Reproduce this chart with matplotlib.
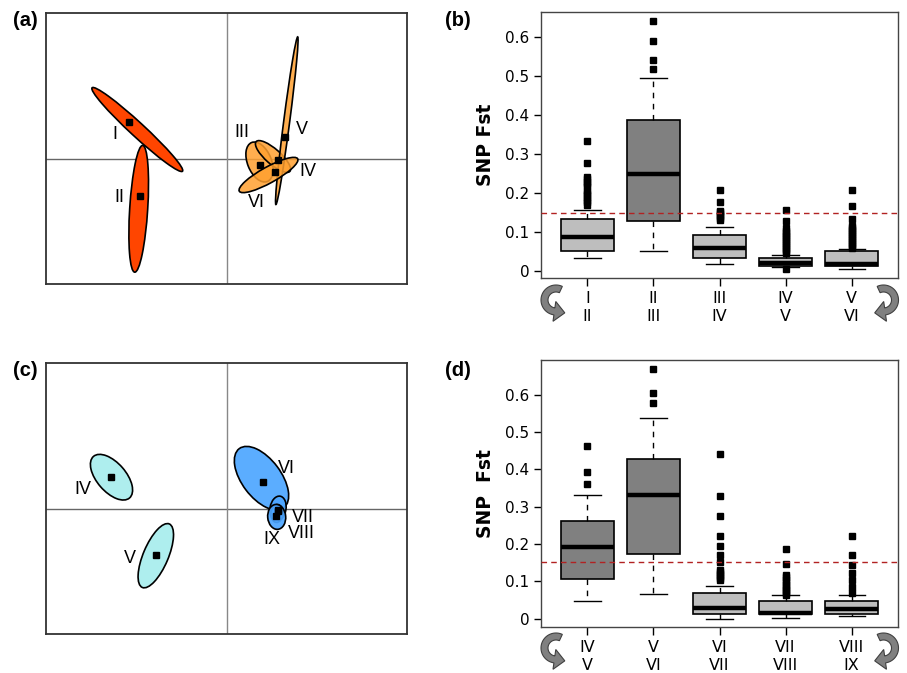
import numpy as np
import matplotlib
matplotlib.use("Agg")
import matplotlib.pyplot as plt
from matplotlib.patches import Ellipse, Polygon

# ---------------- data ----------------
# panel (a): group ellipses (centre, axes, angle), centroids, labels
a_names = ["I", "II", "III", "IV", "V", "VI"]
a_cx = [-0.897, -0.883, 0.325, 0.46, 0.598, 0.415]
a_cy = [0.29, -0.503, -0.035, 0.02, 0.378, -0.165]
a_major = [1.23, 1.27, 0.42, 0.45, 1.69, 0.668]
a_minor = [0.14, 0.18, 0.24, 0.15, 0.06, 0.16]
a_angle = [-42.7, 86.4, -68, -41.4, 82.6, 29]
a_px = [-0.98, -0.87, 0.33, 0.507, 0.58, 0.48]
a_py = [0.363, -0.377, -0.067, -0.017, 0.213, -0.137]
a_lx = [-1.12, -1.077, 0.147, 0.813, 0.747, 0.297]
a_ly = [0.24, -0.393, 0.257, -0.127, 0.29, -0.443]
a_colors = ["#FF4500", "#FF4500", "#FFA030", "#FFA030", "#FFA030", "#FFA030"]

# panel (c)
c_names = ["IV", "V", "VI", "VII", "VIII", "IX"]
c_cx = [-1.155, -0.712, 0.345, 0.51, 0.50, 0.497]
c_cy = [0.313, -0.472, 0.303, 0.0, -0.05, -0.084]
c_major = [0.55, 0.69, 0.74, 0.25, 0.18, 0.25]
c_minor = [0.29, 0.25, 0.39, 0.16, 0.12, 0.18]
c_angle = [-49, 67, -53, 80, 85, 95]
c_px = [-1.16, -0.713, 0.357, 0.507, 0.505, 0.49]
c_py = [0.313, -0.464, 0.263, -0.01, -0.02, -0.077]
c_lx = [-1.443, -0.97, 0.597, 0.757, 0.74, 0.447]
c_ly = [0.19, -0.5, 0.4, -0.094, -0.25, -0.31]
c_colors = ["#AEEEEE", "#AEEEEE", "#4DA6FF", "#4DA6FF", "#4DA6FF", "#4DA6FF"]

# panel (b): SNP Fst boxplots
b_labels = ["I\nII", "II\nIII", "III\nIV", "IV\nV", "V\nVI"]
b_q1 = [0.052, 0.128, 0.034, 0.014, 0.014]
b_med = [0.088, 0.248, 0.059, 0.020, 0.019]
b_q3 = [0.132, 0.387, 0.091, 0.034, 0.050]
b_wlo = [0.033, 0.052, 0.018, 0.009, 0.006]
b_whi = [0.156, 0.495, 0.113, 0.041, 0.056]
b_fliers = [
    [0.332, 0.276, 0.241, 0.235, 0.229, 0.223, 0.218, 0.206, 0.200, 0.194,
     0.188, 0.182, 0.176, 0.170],
    [0.640, 0.589, 0.540, 0.517],
    [0.207, 0.176, 0.155, 0.150, 0.145, 0.140, 0.135, 0.130],
    [0.156, 0.127, 0.109, 0.103, 0.097, 0.092, 0.087, 0.082, 0.077, 0.072,
     0.067, 0.062, 0.057, 0.052, 0.047, 0.004],
    [0.207, 0.166, 0.133, 0.115, 0.110, 0.105, 0.100, 0.095, 0.090, 0.085,
     0.080, 0.075, 0.070, 0.065, 0.060],
]
b_colors = ["#BEBEBE", "#808080", "#BEBEBE", "#BEBEBE", "#BEBEBE"]
b_threshold = 0.148

# panel (d)
d_labels = ["IV\nV", "V\nVI", "VI\nVII", "VII\nVIII", "VIII\nIX"]
d_q1 = [0.107, 0.173, 0.012, 0.012, 0.0125]
d_med = [0.191, 0.331, 0.030, 0.016, 0.027]
d_q3 = [0.261, 0.427, 0.068, 0.048, 0.048]
d_wlo = [0.048, 0.067, 0.0, 0.001, 0.007]
d_whi = [0.331, 0.538, 0.0875, 0.0625, 0.063]
d_fliers = [
    [0.462, 0.392, 0.362],
    [0.668, 0.604, 0.579],
    [0.440, 0.330, 0.274, 0.223, 0.196, 0.171, 0.151, 0.130, 0.125, 0.120,
     0.115, 0.110, 0.104],
    [0.186, 0.146, 0.117, 0.111, 0.105, 0.099, 0.090, 0.085, 0.080, 0.075,
     0.070, 0.065],
    [0.221, 0.172, 0.144, 0.123, 0.105, 0.086, 0.068],
]
d_colors = ["#808080", "#808080", "#BEBEBE", "#BEBEBE", "#BEBEBE"]
d_threshold = 0.153

yticks = [0, 0.1, 0.2, 0.3, 0.4, 0.5, 0.6]
ytick_labels = ["0", "0.1", "0.2", "0.3", "0.4", "0.5", "0.6"]

# ---------------- figure ----------------
W, H = 907, 673
fig = plt.figure(figsize=(W / 100, H / 100), dpi=100)


def px_axes(l, t, r, b, **kw):
    return fig.add_axes([l / W, 1 - b / H, (r - l) / W, (b - t) / H], **kw)


def ellipse_panel(ax, names, cx, cy, major, minor, angle, px, py, lx, ly, colors, alpha):
    ax.set_xlim(-1.81, 1.80)
    ax.set_ylim(-1.255, 1.455)
    ax.axhline(0, color="#666666", lw=1, zorder=1)
    ax.axvline(0, color="#888888", lw=1, zorder=1)
    for i in range(len(names)):
        col = matplotlib.colors.to_rgba(colors[i], alpha[i])
        e = Ellipse((cx[i], cy[i]), width=major[i], height=minor[i], angle=angle[i],
                    facecolor=col, edgecolor="black", lw=1.2, zorder=2 + i * 0.01)
        ax.add_patch(e)
    ax.plot(px, py, linestyle="none", marker="s", markersize=4.5, color="black", zorder=5)
    for i in range(len(names)):
        ax.text(lx[i], ly[i], names[i], ha="center", va="center", fontsize=13,
                family=["Liberation Sans", "DejaVu Sans"], zorder=6)
    ax.set_xticks([])
    ax.set_yticks([])
    for s in ax.spines.values():
        s.set_color("#333333")
        s.set_linewidth(1.3)


def box_panel(ax, labels, q1, med, q3, wlo, whi, fliers, colors, thr, ylabel, ylim):
    stats = []
    for i in range(len(labels)):
        stats.append(dict(q1=q1[i], med=med[i], q3=q3[i], whislo=wlo[i], whishi=whi[i],
                          fliers=fliers[i], label=labels[i]))
    pos = np.arange(1, len(labels) + 1)
    res = ax.bxp(stats, positions=pos, widths=0.8, capwidths=0.4, patch_artist=True,
                 showfliers=True,
                 boxprops=dict(edgecolor="black", linewidth=1.2),
                 medianprops=dict(color="black", linewidth=3.2, solid_capstyle="butt"),
                 whiskerprops=dict(color="black", linewidth=1, linestyle=(0, (4, 4))),
                 capprops=dict(color="black", linewidth=1),
                 flierprops=dict(marker="s", markersize=4.2, markerfacecolor="black",
                                 markeredgecolor="black", linestyle="none"))
    for patch, c in zip(res["boxes"], colors):
        patch.set_facecolor(c)
    ax.axhline(thr, color="#B22222", lw=1, linestyle=(0, (4, 3)), zorder=6)
    ax.set_xlim(0.3, 5.7)
    ax.set_ylim(*ylim)
    ax.set_yticks(yticks)
    ax.set_yticklabels(ytick_labels)
    ax.set_xticks(pos)
    ax.set_xticklabels(labels)
    ax.tick_params(axis="y", labelsize=11, length=5, width=1, pad=3.5, colors="black")
    ax.tick_params(axis="x", labelsize=11.5, length=6, width=1, pad=3.5, colors="black")
    ax.set_ylabel(ylabel, fontsize=13.5, fontweight="bold", labelpad=7)
    for s in ax.spines.values():
        s.set_color("#444444")
        s.set_linewidth(1)


ax_a = px_axes(46, 13, 407, 284)
ellipse_panel(ax_a, a_names, a_cx, a_cy, a_major, a_minor, a_angle, a_px, a_py,
              a_lx, a_ly, a_colors, [1, 1, 0.85, 0.85, 0.85, 0.85])

ax_c = px_axes(46, 363, 407, 634)
ellipse_panel(ax_c, c_names, c_cx, c_cy, c_major, c_minor, c_angle, c_px, c_py,
              c_lx, c_ly, c_colors, [1, 1, 0.92, 0.92, 0.92, 0.92])

ax_b = px_axes(541, 12, 898, 278)
box_panel(ax_b, b_labels, b_q1, b_med, b_q3, b_wlo, b_whi, b_fliers, b_colors,
          b_threshold, "SNP Fst", (-0.018, 0.664))

ax_d = px_axes(541, 360, 898, 627)
box_panel(ax_d, d_labels, d_q1, d_med, d_q3, d_wlo, d_whi, d_fliers, d_colors,
          d_threshold, "SNP  Fst", (-0.022, 0.693))

# overlay for curved arrows (pixel space)
ov = fig.add_axes([0, 0, 1, 1], zorder=-1)
ov.set_xlim(0, W)
ov.set_ylim(H, 0)
ov.axis("off")


def curved_arrow(cx, cy, mirror):
    s = -1 if mirror else 1
    r_out, r_in = 15.0, 8.0
    rm = (r_out + r_in) / 2
    t = np.radians(np.linspace(65, 262, 60))
    outer = np.column_stack([cx + s * r_out * np.cos(t), cy - r_out * np.sin(t)])
    inner = np.column_stack([cx + s * r_in * np.cos(t), cy - r_in * np.sin(t)])
    te = t[-1]
    u = np.array([s * np.cos(te), -np.sin(te)])
    tang = np.array([s * -np.sin(te), -np.cos(te)])
    base = np.array([cx, cy]) + rm * u
    hw, L = 10.0, 10.5
    head = [base + hw * u, base + L * tang, base - hw * u]
    pts = np.vstack([outer, head, inner[::-1]])
    ov.add_patch(Polygon(pts, closed=True, facecolor="#808080", edgecolor="#404040", lw=0.8))


for yc in (300, 648):
    curved_arrow(556, yc, False)
    curved_arrow(883.5, yc, True)

# panel letters
for txt, x, y in [("(a)", 25, 20), ("(b)", 458, 20), ("(c)", 25, 370), ("(d)", 458, 370)]:
    fig.text(x / W, 1 - y / H, txt, ha="center", va="center", fontsize=14.5,
             fontweight="bold", family=["Liberation Sans", "DejaVu Sans"])

fig.savefig("out.png", dpi=100)
